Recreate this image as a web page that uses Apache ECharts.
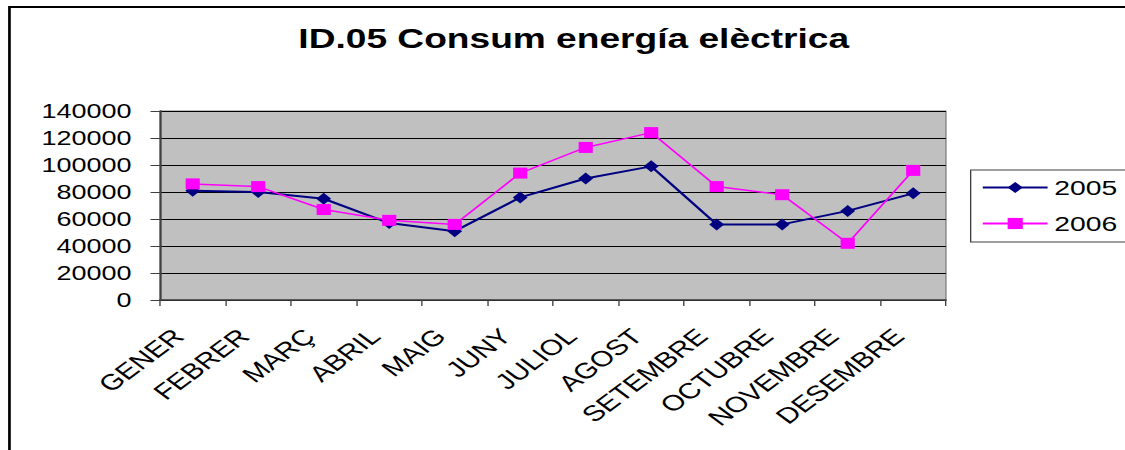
<!DOCTYPE html>
<html>
<head>
<meta charset="utf-8">
<script src="https://cdn.jsdelivr.net/npm/echarts@6/dist/echarts.min.js"></script>
<style>
html,body{margin:0;padding:0;background:#fff;overflow:hidden;}
#wrap{width:1125px;height:450px;overflow:hidden;position:relative;}
#c{width:834px;height:450px;transform:scaleX(1.35);transform-origin:0 0;}
</style>
</head>
<body>
<div id="wrap"><div id="c"></div></div>
<script>
const categories = ['GENER','FEBRER','MARÇ','ABRIL','MAIG','JUNY','JULIOL','AGOST','SETEMBRE','OCTUBRE','NOVEMBRE','DESEMBRE'];
const values2005 = [81000, 80000, 75000, 57000, 51000, 76000, 90000, 99000, 56000, 56000, 66000, 79000];
const values2006 = [86000, 84000, 67000, 59000, 56000, 94000, 113000, 124000, 84000, 78000, 42000, 96000];
const seriesNames = ['2005', '2006'];
const yTicks = {min: 0, max: 140000, interval: 20000};
const titleText = 'ID.05 Consum energía elèctrica';

const FONT = '"Liberation Sans", Arial, sans-serif';
const chart = echarts.init(document.getElementById('c'), null, {renderer: 'svg'});
chart.setOption({
  animation: false,
  backgroundColor: '#ffffff',
  graphic: [{
    type: 'rect', silent: true, z: -1,
    shape: {x: 7, y: 7, width: 2000, height: 2000},
    style: {fill: 'none', stroke: '#000', lineWidth: 2}
  }],
  title: {
    text: titleText, left: 221, top: 24, padding: 0,
    textStyle: {fontFamily: FONT, fontSize: 27.5, fontWeight: 'bold', color: '#000'}
  },
  legend: {
    orient: 'vertical', left: 719, top: 170,
    borderColor: '#404040', borderWidth: 1,
    padding: [7, 14, 8, 8], itemGap: 15, itemWidth: 48, itemHeight: 14,
    textStyle: {fontFamily: FONT, fontSize: 21, color: '#000'},
    data: seriesNames
  },
  grid: {
    left: 118.5, right: 133.3, top: 111, bottom: 150,
    show: true, backgroundColor: '#C0C0C0', borderColor: '#808080', borderWidth: 1,
    containLabel: false
  },
  xAxis: {
    type: 'category', data: categories, boundaryGap: true,
    axisLine: {show: true, lineStyle: {color: '#404040', width: 1.5}},
    axisTick: {show: true, length: 6, interval: 0, lineStyle: {color: '#404040'}},
    axisLabel: {interval: 0, rotate: 45, margin: 22, padding: [0, 15, 0, 0],
      fontFamily: FONT, fontSize: 22, color: '#000'},
    splitLine: {show: false}
  },
  yAxis: {
    type: 'value', min: yTicks.min, max: yTicks.max, interval: yTicks.interval,
    axisLine: {show: true, lineStyle: {color: '#404040', width: 1.5}},
    axisTick: {show: true, length: 7, lineStyle: {color: '#404040'}},
    axisLabel: {margin: 21, fontFamily: FONT, fontSize: 20, color: '#000',
      formatter: function (v) { return String(v); }},
    splitLine: {show: true, lineStyle: {color: '#000', width: 1}}
  },
  series: [{
    name: seriesNames[0], type: 'line', data: values2005,
    symbol: 'diamond', symbolSize: [11, 12], showAllSymbol: true,
    itemStyle: {color: '#000080'}, lineStyle: {color: '#000080', width: 2},
    emphasis: {disabled: true}
  }, {
    name: seriesNames[1], type: 'line', data: values2006,
    symbol: 'rect', symbolSize: [10.5, 11], showAllSymbol: true,
    itemStyle: {color: '#FF00FF'}, lineStyle: {color: '#FF00FF', width: 1.5},
    emphasis: {disabled: true}
  }]
});
</script>
</body>
</html>
